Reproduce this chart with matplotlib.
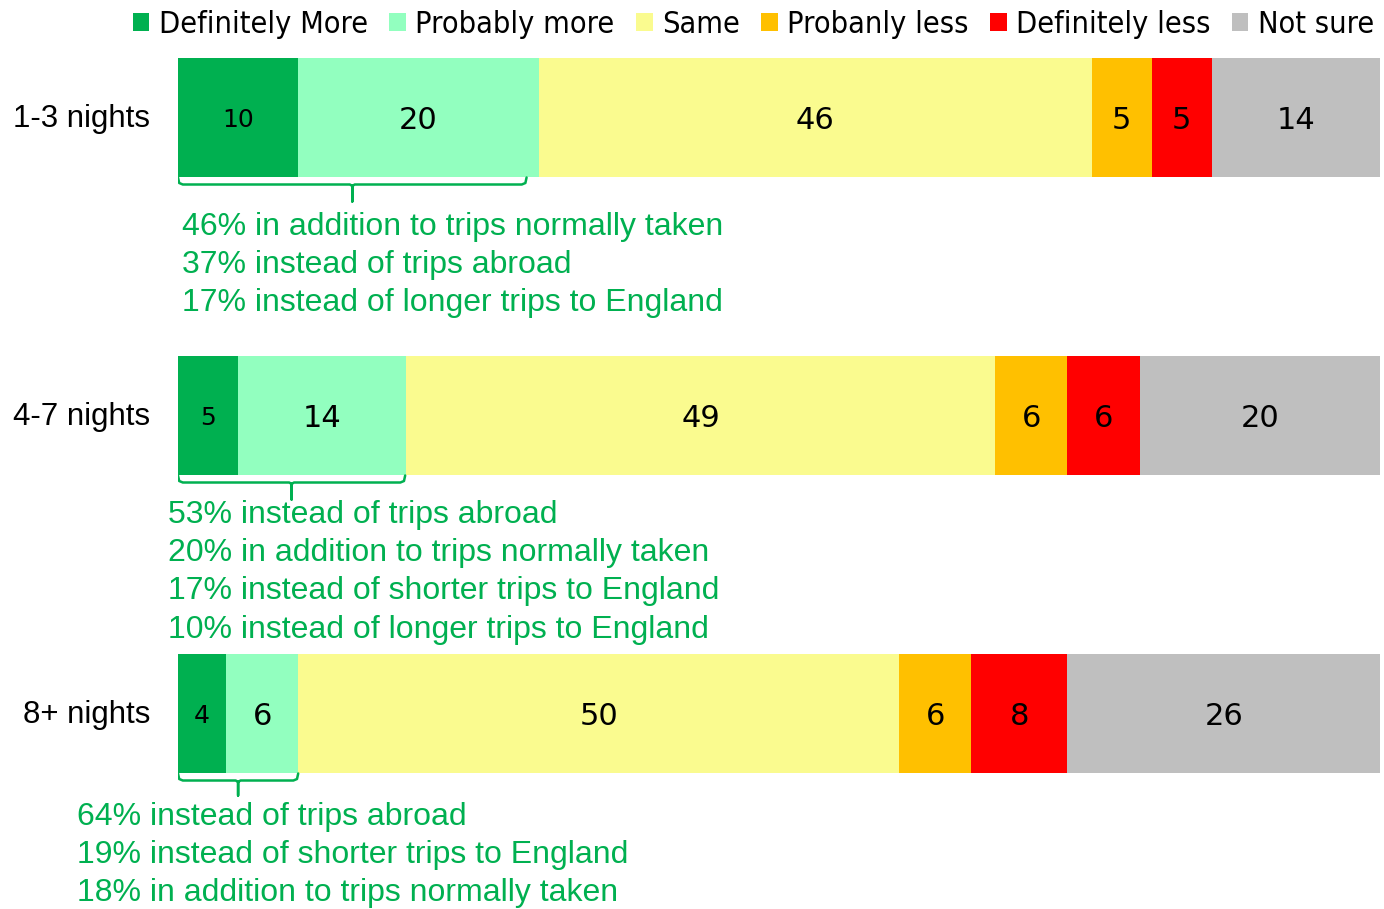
import matplotlib
matplotlib.use("Agg")
import matplotlib.pyplot as plt
from matplotlib.patches import Patch

# Data
CATEGORIES = ["1-3 nights", "4-7 nights", "8+ nights"]
SERIES = ["Definitely More", "Probably more", "Same", "Probanly less", "Definitely less", "Not sure"]
COLORS = ["#00B050", "#92FFBF", "#FAFB8F", "#FFC000", "#FF0000", "#BFBFBF"]

DEF_MORE = [10, 5, 4]
PROB_MORE = [20, 14, 6]
SAME = [46, 49, 50]
PROB_LESS = [5, 6, 6]
DEF_LESS = [5, 6, 8]
NOT_SURE = [14, 20, 26]

NOTES = [
    ["46% in addition to trips normally taken",
     "37% instead of trips abroad",
     "17% instead of longer trips to England"],
    ["53% instead of trips abroad",
     "20% in addition to trips normally taken",
     "17% instead of shorter trips to England",
     "10% instead of longer trips to England"],
    ["64% instead of trips abroad",
     "19% instead of shorter trips to England",
     "18% in addition to trips normally taken"],
]

GREEN_TEXT = "#00B050"
PX = 298.0  # pixels per row unit


def main():
    fig = plt.figure(figsize=(13.84, 9.09), dpi=100)
    ax = fig.add_axes([178 / 1384, 0, 1202 / 1384, 1])
    ax.set_xlim(0, 100)
    ax.set_ylim((909 - 117.5) / PX, -117.5 / PX)
    ax.axis("off")

    data = [DEF_MORE, PROB_MORE, SAME, PROB_LESS, DEF_LESS, NOT_SURE]
    ys = list(range(len(CATEGORIES)))
    left = [0] * len(CATEGORIES)
    for k, (vals, col) in enumerate(zip(data, COLORS)):
        ax.barh(ys, vals, left=left, height=119 / PX, color=col, linewidth=0)
        for y, v, l in zip(ys, vals, left):
            # the dark green segment uses a smaller label
            size = 18 if k == 0 else 22
            ax.text(l + v / 2, y + 2.5 / PX, str(v), ha="center", va="center",
                    fontsize=size, family="DejaVu Sans", color="black")
        left = [a + b for a, b in zip(left, vals)]

    # category labels
    for y, cat in zip(ys, CATEGORIES):
        fig.text(150 / 1384, 1 - (119.5 + y * PX) / 909, cat, ha="right", va="center",
                 fontsize=22.5, family="Liberation Sans")

    # braces under green segments
    brace_right = [29, 18.9, 10]
    for y, r in zip(ys, brace_right):
        top = y + 60 / PX
        low = y + 67 / PX
        tip = y + (84 if y < 2 else 82) / PX
        mid = r / 2
        ax.plot([0, 0.1, 0.4, mid - 0.2, mid, mid, mid, mid + 0.2, r - 0.4, r - 0.1, r],
                [top, low - 0.005, low, low, low + 0.005, tip, low + 0.005, low, low, low - 0.005, top],
                color=GREEN_TEXT, lw=1.8, solid_capstyle="round", solid_joinstyle="round")

    # notes
    note_x = [182, 168, 77]
    note_y0 = [226.5, 514.5, 816.5]
    for xs, y0, lines in zip(note_x, note_y0, NOTES):
        for i, line in enumerate(lines):
            fig.text(xs / 1384, 1 - (y0 + i * 38.5) / 909, line, ha="left", va="center",
                     fontsize=23, family="Liberation Sans", color=GREEN_TEXT)

    handles = [Patch(facecolor=c, edgecolor="none") for c in COLORS]
    fig.legend(handles, SERIES, loc="upper right", bbox_to_anchor=(1380 / 1384, 0.996),
               ncol=6, frameon=False, handlelength=0.55, handleheight=0.55,
               handletextpad=0.3, columnspacing=0.7, borderaxespad=0, borderpad=0.2,
               prop={"family": "DejaVu Sans", "size": 22, "stretch": "condensed"})

    fig.savefig("out.png", dpi=100)


if __name__ == "__main__":
    main()
